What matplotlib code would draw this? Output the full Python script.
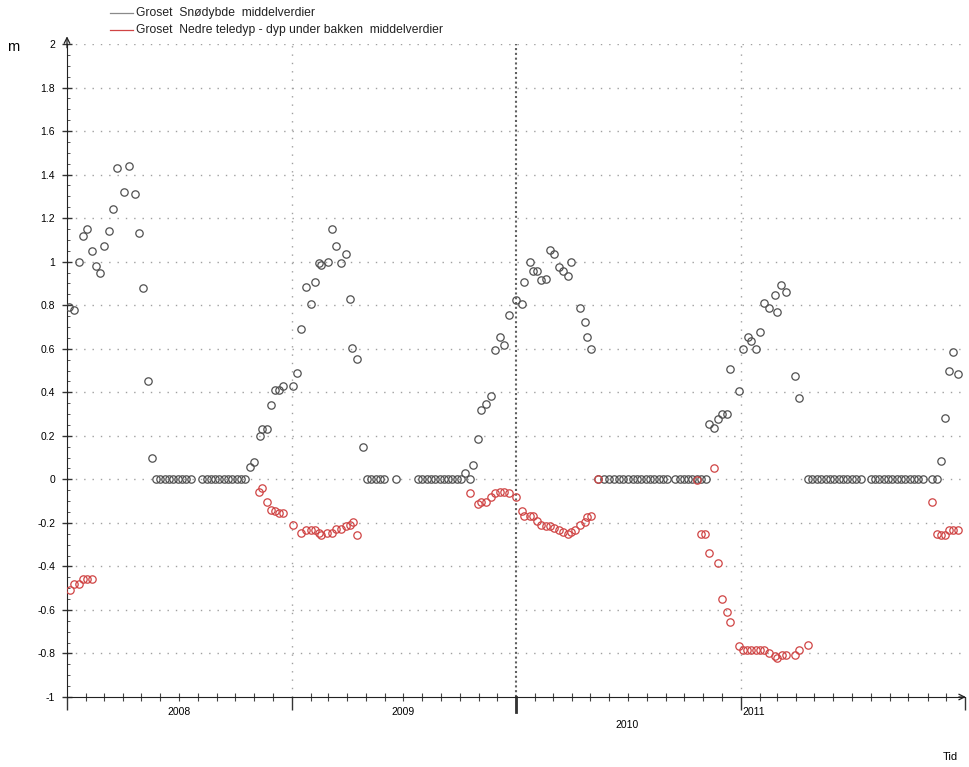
import matplotlib
matplotlib.use("Agg")
import matplotlib.pyplot as plt
import matplotlib.dates as mdates
import matplotlib.ticker as mticker
import pandas as pd

plt.rcParams['font.family'] = ['Liberation Sans', 'DejaVu Sans']

# Groset snow depth, weekly means (m)
snow_dates = [
    '2008-01-04', '2008-01-12', '2008-01-21', '2008-01-27', '2008-02-03', '2008-02-11', '2008-02-17',
    '2008-02-24', '2008-03-01', '2008-03-09', '2008-03-16', '2008-03-23', '2008-04-03', '2008-04-11',
    '2008-04-21', '2008-04-27', '2008-05-04', '2008-05-12', '2008-05-18',
    '2008-05-25', '2008-06-01', '2008-06-08', '2008-06-15', '2008-06-22', '2008-06-29', '2008-07-06',
    '2008-07-13', '2008-07-20',
    '2008-08-08', '2008-08-15', '2008-08-22', '2008-08-29', '2008-09-05', '2008-09-12', '2008-09-19',
    '2008-09-26', '2008-10-03', '2008-10-10', '2008-10-17',
    '2008-10-25', '2008-10-31', '2008-11-10', '2008-11-13', '2008-11-21', '2008-11-28', '2008-12-04',
    '2008-12-11', '2008-12-17',
    '2009-01-03', '2009-01-09', '2009-01-16', '2009-01-24', '2009-02-01', '2009-02-07', '2009-02-14',
    '2009-02-17', '2009-03-01', '2009-03-07', '2009-03-14', '2009-03-22', '2009-03-30', '2009-04-05',
    '2009-04-09', '2009-04-17', '2009-04-27',
    '2009-05-03', '2009-05-10', '2009-05-17', '2009-05-24', '2009-05-31', '2009-06-19',
    '2009-07-25', '2009-08-01', '2009-08-09', '2009-08-15', '2009-08-22', '2009-08-30', '2009-09-05',
    '2009-09-12', '2009-09-18', '2009-09-26', '2009-10-03',
    '2009-10-10', '2009-10-18', '2009-10-23', '2009-10-31', '2009-11-05', '2009-11-13', '2009-11-21',
    '2009-11-27', '2009-12-06', '2009-12-12', '2009-12-20',
    '2010-01-01', '2010-01-10', '2010-01-14', '2010-01-23', '2010-01-28', '2010-02-04', '2010-02-10',
    '2010-02-18', '2010-02-25', '2010-03-03', '2010-03-11', '2010-03-18', '2010-03-26', '2010-03-31',
    '2010-04-15', '2010-04-23', '2010-04-26', '2010-05-03',
    '2010-05-14', '2010-05-24', '2010-06-01', '2010-06-09', '2010-06-17', '2010-06-24', '2010-07-02',
    '2010-07-10', '2010-07-16', '2010-07-23', '2010-07-31', '2010-08-07', '2010-08-13', '2010-08-21',
    '2010-08-28', '2010-09-03', '2010-09-16', '2010-09-24', '2010-10-01', '2010-10-07', '2010-10-14',
    '2010-10-22', '2010-10-29', '2010-11-06',
    '2010-11-11', '2010-11-19', '2010-11-25', '2010-12-02', '2010-12-10', '2010-12-15', '2010-12-29',
    '2011-01-05', '2011-01-13', '2011-01-18', '2011-01-26', '2011-02-02', '2011-02-08', '2011-02-16',
    '2011-02-26', '2011-03-01', '2011-03-08', '2011-03-16', '2011-03-30', '2011-04-06',
    '2011-04-21', '2011-04-27', '2011-05-05', '2011-05-12', '2011-05-20', '2011-05-26', '2011-06-02',
    '2011-06-10', '2011-06-17', '2011-06-23', '2011-07-01', '2011-07-08', '2011-07-16',
    '2011-08-01', '2011-08-08', '2011-08-14', '2011-08-22', '2011-08-29', '2011-09-04', '2011-09-12',
    '2011-09-19', '2011-09-25', '2011-10-04', '2011-10-10', '2011-10-17', '2011-10-25',
    '2011-11-08', '2011-11-16',
    '2011-11-23', '2011-11-29', '2011-12-06', '2011-12-13', '2011-12-21',
]
snow_m = [
    0.79, 0.78, 1.00, 1.12, 1.15, 1.05, 0.98,
    0.95, 1.07, 1.14, 1.24, 1.43, 1.32, 1.44,
    1.31, 1.13, 0.88, 0.45, 0.10,
    0, 0, 0, 0, 0, 0, 0,
    0, 0,
    0, 0, 0, 0, 0, 0, 0,
    0, 0, 0, 0,
    0.055, 0.08, 0.20, 0.23, 0.23, 0.34, 0.41,
    0.41, 0.43,
    0.43, 0.49, 0.69, 0.885, 0.805, 0.905, 0.995,
    0.985, 1.00, 1.15, 1.07, 0.995, 1.035, 0.83,
    0.605, 0.555, 0.15,
    0, 0, 0, 0, 0, 0,
    0, 0, 0, 0, 0, 0, 0,
    0, 0, 0, 0,
    0.03, 0, 0.065, 0.185, 0.32, 0.345, 0.385,
    0.595, 0.655, 0.615, 0.755,
    0.825, 0.805, 0.905, 1.00, 0.955, 0.955, 0.915,
    0.92, 1.055, 1.035, 0.975, 0.955, 0.935, 1.00,
    0.785, 0.725, 0.655, 0.60,
    0, 0, 0, 0, 0, 0, 0,
    0, 0, 0, 0, 0, 0, 0,
    0, 0, 0, 0, 0, 0, 0,
    0, 0, 0,
    0.255, 0.235, 0.275, 0.30, 0.30, 0.505, 0.405,
    0.60, 0.655, 0.635, 0.60, 0.675, 0.81, 0.785,
    0.845, 0.77, 0.895, 0.86, 0.475, 0.375,
    0, 0, 0, 0, 0, 0, 0,
    0, 0, 0, 0, 0, 0,
    0, 0, 0, 0, 0, 0, 0,
    0, 0, 0, 0, 0, 0,
    0, 0,
    0.083, 0.28, 0.50, 0.585, 0.485,
]

# Groset lower frost depth below ground, weekly means (m)
frost_dates = [
    '2008-01-06', '2008-01-12', '2008-01-21', '2008-01-27', '2008-02-03', '2008-02-11',
    '2008-11-08', '2008-11-13', '2008-11-21', '2008-11-28', '2008-12-04', '2008-12-11', '2008-12-17',
    '2009-01-03', '2009-01-16', '2009-01-24', '2009-02-01', '2009-02-07', '2009-02-14', '2009-02-17',
    '2009-02-27', '2009-03-07', '2009-03-14', '2009-03-22', '2009-03-30', '2009-04-05', '2009-04-10',
    '2009-04-17',
    '2009-10-18', '2009-10-31', '2009-11-05', '2009-11-13', '2009-11-21', '2009-11-27', '2009-12-06',
    '2009-12-12', '2009-12-20',
    '2010-01-01', '2010-01-10', '2010-01-14', '2010-01-23', '2010-01-28', '2010-02-04', '2010-02-10',
    '2010-02-18', '2010-02-25', '2010-03-03', '2010-03-11', '2010-03-18', '2010-03-26', '2010-03-31',
    '2010-04-07', '2010-04-15', '2010-04-23', '2010-04-26', '2010-05-03', '2010-05-14',
    '2010-10-22', '2010-10-29', '2010-11-04', '2010-11-11', '2010-11-19', '2010-11-25', '2010-12-02',
    '2010-12-10', '2010-12-15', '2010-12-29',
    '2011-01-05', '2011-01-11', '2011-01-18', '2011-01-26', '2011-02-02', '2011-02-08', '2011-02-16',
    '2011-02-26', '2011-03-01', '2011-03-09', '2011-03-16', '2011-03-30', '2011-04-06', '2011-04-21',
    '2011-11-08', '2011-11-16', '2011-11-23', '2011-11-29', '2011-12-06', '2011-12-13', '2011-12-21',
]
frost_m = [
    -0.51, -0.48, -0.48, -0.46, -0.46, -0.46,
    -0.06, -0.04, -0.105, -0.14, -0.145, -0.155, -0.155,
    -0.21, -0.245, -0.235, -0.235, -0.235, -0.245, -0.255,
    -0.245, -0.245, -0.23, -0.23, -0.215, -0.21, -0.195,
    -0.255,
    -0.065, -0.115, -0.105, -0.105, -0.08, -0.065, -0.06,
    -0.06, -0.065,
    -0.08, -0.145, -0.17, -0.17, -0.17, -0.19, -0.21,
    -0.215, -0.215, -0.225, -0.235, -0.24, -0.25, -0.24,
    -0.235, -0.21, -0.195, -0.175, -0.17, 0.0,
    -0.005, -0.25, -0.25, -0.34, 0.05, -0.385, -0.55,
    -0.61, -0.655, -0.765,
    -0.785, -0.785, -0.785, -0.785, -0.785, -0.785, -0.80,
    -0.81, -0.82, -0.805, -0.805, -0.805, -0.785, -0.76,
    -0.105, -0.25, -0.255, -0.255, -0.235, -0.235, -0.235,
]

legend_labels = ['Groset  Snødybde  middelverdier',
                 'Groset  Nedre teledyp - dyp under bakken  middelverdier']
year_labels = ['2008', '2009', '2010', '2011']

snow_col = '#505050'
frost_col = '#d04444'


def dnum(s):
    return mdates.date2num(pd.Timestamp(s))


W, H = 969, 767
fig = plt.figure(figsize=(W / 100, H / 100), dpi=100)
ax = fig.add_axes([67 / W, 1 - 697 / H, (965 - 67) / W, (697 - 44) / H])

# grid
for yv in [-0.8, -0.6, -0.4, -0.2, 0.0, 0.2, 0.4, 0.6, 0.8, 1.0, 1.2, 1.4, 1.6, 1.8, 2.0]:
    ax.axhline(yv, color='#a0a0a0', lw=1.0, ls=(0, (1, 5)), zorder=1)
for yr in ['2009-01-01', '2011-01-01']:
    ax.axvline(dnum(yr), color='#a0a0a0', lw=1.0, ls=(0, (1, 5)), zorder=1)
ax.axvline(dnum('2010-01-01'), color='#606060', lw=1.5, ls=(0, (1, 1.3)), zorder=1)
ax.axvline(dnum('2010-01-01'), ymin=-0.023, ymax=0, color='#333333', lw=2, clip_on=False)

ax.plot([dnum(d) for d in snow_dates], snow_m, ls='none', marker='o', ms=5.3,
        mfc='none', mec=snow_col, mew=0.9, zorder=3)
ax.plot([dnum(d) for d in frost_dates], frost_m, ls='none', marker='o', ms=5.3,
        mfc='none', mec=frost_col, mew=0.9, zorder=4)

ax.set_xlim(dnum('2008-01-01'), dnum('2012-01-01'))
ax.set_ylim(-1, 2)

# axes look
for s in ['top', 'right']:
    ax.spines[s].set_visible(False)
ax.spines['left'].set_color('#222222')
ax.spines['bottom'].set_color('#222222')
ax.xaxis.set_major_locator(mdates.YearLocator())
ax.xaxis.set_minor_locator(mdates.MonthLocator())
ax.xaxis.set_major_formatter(mticker.NullFormatter())
ax.yaxis.set_major_locator(mticker.MultipleLocator(0.2))
ax.yaxis.set_minor_locator(mticker.MultipleLocator(0.05))
ax.tick_params(axis='x', which='major', direction='out', length=9, width=1, color='#333333')
ax.tick_params(axis='x', which='minor', direction='inout', length=6, width=0.8, color='#444444')
ax.tick_params(axis='y', which='major', direction='inout', length=7, width=1, color='#333333',
               labelsize=7.5, pad=5)
ax.tick_params(axis='y', which='minor', direction='in', length=2, width=0.7, color='#555555')
ax.yaxis.set_major_formatter(mticker.FuncFormatter(lambda v, p: '%g' % round(v, 2)))

# axis arrows
ax.annotate('', xy=(0, 1.016), xytext=(0, 0.99), xycoords='axes fraction',
            arrowprops=dict(arrowstyle='->', lw=0.9, color='#222222'))
ax.annotate('', xy=(1.004, 0), xytext=(0.99, 0), xycoords='axes fraction',
            arrowprops=dict(arrowstyle='->', lw=0.9, color='#222222'))

# year labels (as placed in the original)
tx = ax.get_xaxis_transform()
label_spots = [('2008-07-01', 0, -11, 'center'), ('2009-07-01', 0, -11, 'center'),
               ('2010-07-01', 0, -20.5, 'center'), ('2011-01-01', 1.5, -10.5, 'left')]
for lab, (d, dx, dy, ha) in zip(year_labels, label_spots):
    ax.annotate(lab, xy=(dnum(d), 0), xycoords=tx, xytext=(dx, dy),
                textcoords='offset points', ha=ha, va='center', fontsize=7.5)

fig.text(7 / W, 1 - 47 / H, 'm', fontsize=10.5, va='center', ha='left')
fig.text(943 / W, 1 - 757 / H, 'Tid', fontsize=8, va='center', ha='left')

# legend
for i, (lab, col) in enumerate(zip(legend_labels, ['#8a8a8a', frost_col])):
    yy = 1 - (13 + 17 * i) / H
    fig.add_artist(plt.Line2D([110 / W, 133 / W], [yy, yy], color=col, lw=0.9))
    fig.text(136 / W, yy, lab, fontsize=8.7, va='center', ha='left', color='#222222')

fig.savefig('out.png', dpi=100)
